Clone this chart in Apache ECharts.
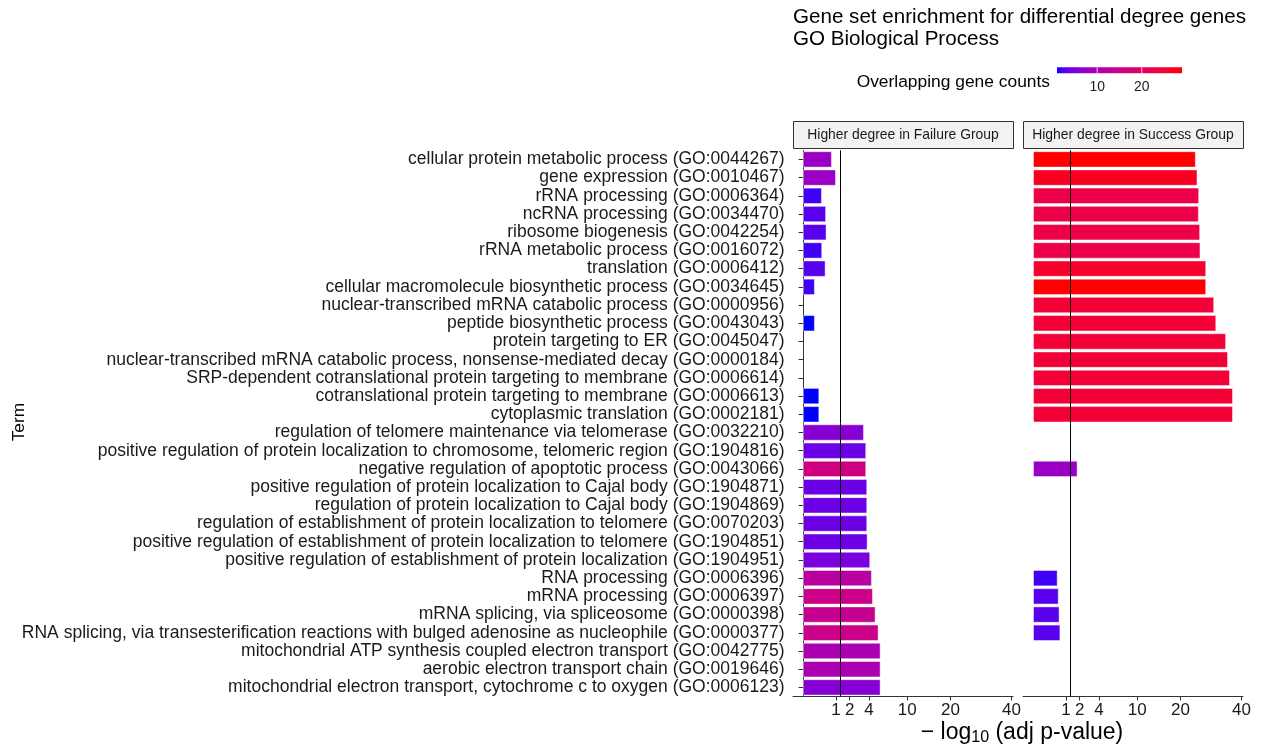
<!DOCTYPE html>
<html>
<head>
<meta charset="utf-8">
<script src="https://cdn.jsdelivr.net/npm/echarts@6/dist/echarts.min.js"></script>
<style>
  html, body { margin: 0; padding: 0; background: #ffffff; }
  #chart { width: 1261px; height: 749px; }
</style>
</head>
<body>
<div id="chart"></div>
<script>
// GO Biological Process terms, top to bottom
const terms = [
  'cellular protein metabolic process (GO:0044267)',
  'gene expression (GO:0010467)',
  'rRNA processing (GO:0006364)',
  'ncRNA processing (GO:0034470)',
  'ribosome biogenesis (GO:0042254)',
  'rRNA metabolic process (GO:0016072)',
  'translation (GO:0006412)',
  'cellular macromolecule biosynthetic process (GO:0034645)',
  'nuclear-transcribed mRNA catabolic process (GO:0000956)',
  'peptide biosynthetic process (GO:0043043)',
  'protein targeting to ER (GO:0045047)',
  'nuclear-transcribed mRNA catabolic process, nonsense-mediated decay (GO:0000184)',
  'SRP-dependent cotranslational protein targeting to membrane (GO:0006614)',
  'cotranslational protein targeting to membrane (GO:0006613)',
  'cytoplasmic translation (GO:0002181)',
  'regulation of telomere maintenance via telomerase (GO:0032210)',
  'positive regulation of protein localization to chromosome, telomeric region (GO:1904816)',
  'negative regulation of apoptotic process (GO:0043066)',
  'positive regulation of protein localization to Cajal body (GO:1904871)',
  'regulation of protein localization to Cajal body (GO:1904869)',
  'regulation of establishment of protein localization to telomere (GO:0070203)',
  'positive regulation of establishment of protein localization to telomere (GO:1904851)',
  'positive regulation of establishment of protein localization (GO:1904951)',
  'RNA processing (GO:0006396)',
  'mRNA processing (GO:0006397)',
  'mRNA splicing, via spliceosome (GO:0000398)',
  'RNA splicing, via transesterification reactions with bulged adenosine as nucleophile (GO:0000377)',
  'mitochondrial ATP synthesis coupled electron transport (GO:0042775)',
  'aerobic electron transport chain (GO:0019646)',
  'mitochondrial electron transport, cytochrome c to oxygen (GO:0006123)'
];

// -log10(adjusted p-value), Failure group (null = term not enriched)
const failureLogP = [0.77, 1.00, 0.33, 0.49, 0.51, 0.34, 0.47, 0.13, null, 0.13,
  null, null, null, 0.245, 0.245, 3.42, 3.68, 3.68, 3.80, 3.80,
  3.80, 3.84, 4.16, 4.37, 4.50, 4.85, 5.26, 5.54, 5.54, 5.54];
// overlapping gene counts, Failure group
const failureCounts = [8, 8, 2, 3, 3, 2, 3, 2, null, 1,
  null, null, null, 1, 1, 6, 4, 16, 4, 4,
  4, 4, 5, 12, 15, 14, 15, 10, 10, 6];

// -log10(adjusted p-value), Success group
const successLogP = [24.4, 24.9, 25.4, 25.3, 25.7, 25.8, 27.6, 27.6, 30.2, 30.9,
  34.3, 35.0, 35.7, 36.8, 36.8, null, null, 1.83, null, null,
  null, null, null, 0.56, 0.61, 0.65, 0.69, null, null, null];
// overlapping gene counts, Success group
const successCounts = [29, 27, 23, 23, 23, 23, 26, 29, 25, 25,
  25, 25, 25, 25, 25, null, null, 8, null, null,
  null, null, null, 2, 3, 3, 3, null, null, null];

const facetNames = ['Higher degree in Failure Group', 'Higher degree in Success Group'];
const xTickValues = [1, 2, 4, 10, 20, 40];
const legendTickValues = [10, 20];
const cutoffLogP = -Math.log10(0.05);

// ---- colour ramp blue -> red, interpolated in CIE Lab ----
function toLinear(c) { c /= 255; return c <= 0.04045 ? c / 12.92 : Math.pow((c + 0.055) / 1.055, 2.4); }
function toGamma(c) { c = Math.min(1, Math.max(0, c)); return c <= 0.0031308 ? 12.92 * c : 1.055 * Math.pow(c, 1 / 2.4) - 0.055; }
const WP = [0.95047, 1.0, 1.08883];
function rgbToLab(rgb) {
  const R = toLinear(rgb[0]), G = toLinear(rgb[1]), B = toLinear(rgb[2]);
  const X = (0.4124564 * R + 0.3575761 * G + 0.1804375 * B) / WP[0];
  const Y = (0.2126729 * R + 0.7151522 * G + 0.0721750 * B) / WP[1];
  const Z = (0.0193339 * R + 0.1191920 * G + 0.9503041 * B) / WP[2];
  const f = t => t > 216 / 24389 ? Math.cbrt(t) : (24389 / 27 * t + 16) / 116;
  const fx = f(X), fy = f(Y), fz = f(Z);
  return [116 * fy - 16, 500 * (fx - fy), 200 * (fy - fz)];
}
function labToHex(lab) {
  const fy = (lab[0] + 16) / 116, fx = fy + lab[1] / 500, fz = fy - lab[2] / 200;
  const finv = t => t * t * t > 216 / 24389 ? t * t * t : (116 * t - 16) / (24389 / 27);
  const X = finv(fx) * WP[0], Y = finv(fy) * WP[1], Z = finv(fz) * WP[2];
  const r = 3.2404542 * X - 1.5371385 * Y - 0.4985314 * Z;
  const g = -0.9692660 * X + 1.8760108 * Y + 0.0415560 * Z;
  const b = 0.0556434 * X - 0.2040259 * Y + 1.0572252 * Z;
  const h = v => Math.round(toGamma(v) * 255).toString(16).padStart(2, '0');
  return '#' + h(r) + h(g) + h(b);
}
const LAB_LOW = rgbToLab([0, 0, 255]);
const LAB_HIGH = rgbToLab([255, 0, 0]);
function rampColor(t) {
  return labToHex(LAB_LOW.map((v, i) => v + (LAB_HIGH[i] - v) * t));
}
const allCounts = failureCounts.concat(successCounts).filter(v => v != null);
const countMin = Math.min(...allCounts);
const countMax = Math.max(...allCounts);
function countColor(c) { return rampColor((c - countMin) / (countMax - countMin)); }

// ---- square-root x scale shared by both facets ----
const allLogP = failureLogP.concat(successLogP).filter(v => v != null);
const sqrtMax = Math.sqrt(Math.max(...allLogP));
const xMin = -0.05 * sqrtMax;
const xMax = 1.05 * sqrtMax;
const xTicksSqrt = xTickValues.map(Math.sqrt);

// ---- layout ----
const FONT = 'Liberation Sans, Arial, sans-serif';
const panelLeft = [793, 1023];
const panelWidth = 220;
const panelTop = 150.3;
const panelHeight = 546.2;
const stripTop = 121;
const stripHeight = 27;

function barData(vals, counts) {
  return vals.map((v, i) => v == null ? '-' : {
    value: Math.sqrt(v),
    itemStyle: { color: countColor(counts[i]) }
  });
}

function panelXAxis(gi) {
  return {
    type: 'value', gridIndex: gi, min: xMin, max: xMax,
    splitLine: { show: false },
    axisLine: { show: true, lineStyle: { color: '#333333', width: 1 } },
    axisTick: { show: true, length: 4, customValues: xTicksSqrt, lineStyle: { color: '#333333' } },
    axisLabel: {
      show: true, customValues: xTicksSqrt, margin: 5,
      fontSize: 17, fontFamily: FONT, color: '#1a1a1a',
      formatter: v => String(Math.round(v * v))
    }
  };
}

function cutoffLine() {
  return {
    silent: true, symbol: 'none', label: { show: false },
    lineStyle: { color: '#000000', width: 1, type: 'solid' },
    emphasis: { disabled: true },
    data: [{ xAxis: Math.sqrt(cutoffLogP) }]
  };
}

const barCommon = {
  type: 'bar', barWidth: '90%', silent: true, animation: false,
  itemStyle: { borderColor: 'rgba(255,255,255,0.45)', borderWidth: 1 }
};

// gradient for the colour bar
const gradStops = [];
for (let i = 0; i <= 24; i++) gradStops.push({ offset: i / 24, color: rampColor(i / 24) });

const graphics = [];
facetNames.forEach((name, k) => {
  graphics.push({
    type: 'rect', z: 10,
    shape: { x: panelLeft[k] + 0.5, y: stripTop + 0.5, width: panelWidth, height: stripHeight },
    style: { fill: '#f2f2f2', stroke: '#333333', lineWidth: 1 }
  });
  graphics.push({
    type: 'text', z: 11,
    x: panelLeft[k] + panelWidth / 2, y: stripTop + stripHeight / 2 + 0.5,
    style: { text: name, fontSize: 13.9, fontFamily: FONT, fill: '#1a1a1a', align: 'center', verticalAlign: 'middle' }
  });
});
graphics.push({
  type: 'text', x: 19, y: 422, rotation: Math.PI / 2,
  style: { text: 'Term', fontSize: 17.4, fontFamily: FONT, fill: '#000000', align: 'center', verticalAlign: 'middle' }
});
graphics.push({
  type: 'text', x: 1050, y: 82,
  style: { text: 'Overlapping gene counts', fontSize: 17.4, fontFamily: FONT, fill: '#000000', align: 'right', verticalAlign: 'middle' }
});
graphics.push({
  type: 'text', x: 1022, y: 733,
  style: {
    text: '{a|\u2212 log}{b|10}{a| (adj p-value)}',
    align: 'center', verticalAlign: 'middle', fill: '#000000',
    rich: {
      a: { fontSize: 23, fontFamily: FONT, fill: '#000000', lineHeight: 26 },
      b: { fontSize: 16, fontFamily: FONT, fill: '#000000', lineHeight: 13, verticalAlign: 'bottom' }
    }
  }
});

const option = {
  animation: false,
  backgroundColor: '#ffffff',
  title: {
    text: 'Gene set enrichment for differential degree genes\nGO Biological Process',
    left: 793, top: 6, padding: 0,
    textStyle: { fontSize: 20.6, fontWeight: 'normal', fontFamily: FONT, color: '#000000', lineHeight: 22 }
  },
  grid: [
    { left: panelLeft[0], top: panelTop, width: panelWidth, height: panelHeight, outerBoundsMode: 'none', containLabel: false },
    { left: panelLeft[1], top: panelTop, width: panelWidth, height: panelHeight, outerBoundsMode: 'none', containLabel: false },
    { left: 1057, top: 67.3, width: 125, height: 6, outerBoundsMode: 'none', containLabel: false }
  ],
  xAxis: [
    panelXAxis(0),
    panelXAxis(1),
    {
      type: 'value', gridIndex: 2, min: countMin, max: countMax,
      splitLine: { show: false }, axisLine: { show: false }, axisTick: { show: false },
      axisLabel: { show: true, customValues: legendTickValues, margin: 7, fontSize: 13.9, fontFamily: FONT, color: '#1a1a1a' }
    }
  ],
  yAxis: [
    {
      type: 'category', gridIndex: 0, data: terms, inverse: true,
      axisLine: { show: true, lineStyle: { color: '#333333', width: 1 } },
      axisTick: { show: true, length: 4.5, alignWithLabel: true, lineStyle: { color: '#333333' } },
      axisLabel: { show: true, margin: 8.5, fontSize: 17.5, fontFamily: FONT, color: '#1a1a1a', interval: 0 },
      splitLine: { show: false }
    },
    {
      type: 'category', gridIndex: 1, data: terms, inverse: true,
      axisLine: { show: false }, axisTick: { show: false }, axisLabel: { show: false }, splitLine: { show: false }
    },
    { type: 'value', gridIndex: 2, min: 0, max: 1, show: false }
  ],
  series: [
    Object.assign({}, barCommon, {
      name: facetNames[0], xAxisIndex: 0, yAxisIndex: 0,
      data: barData(failureLogP, failureCounts), markLine: cutoffLine()
    }),
    Object.assign({}, barCommon, {
      name: facetNames[1], xAxisIndex: 1, yAxisIndex: 1,
      data: barData(successLogP, successCounts), markLine: cutoffLine()
    }),
    {
      type: 'custom', xAxisIndex: 2, yAxisIndex: 2, silent: true,
      data: [[countMin, countMax]],
      renderItem: function (params, api) {
        const p0 = api.coord([api.value(0), 1]);
        const p1 = api.coord([api.value(1), 0]);
        const children = [{
          type: 'rect',
          shape: { x: p0[0], y: p0[1], width: p1[0] - p0[0], height: p1[1] - p0[1] },
          style: { fill: new echarts.graphic.LinearGradient(0, 0, 1, 0, gradStops) }
        }];
        legendTickValues.forEach(t => {
          const a = api.coord([t, 1]), b = api.coord([t, 0]);
          children.push({
            type: 'line',
            shape: { x1: a[0], y1: a[1], x2: b[0], y2: b[1] },
            style: { stroke: 'rgba(255,255,255,0.8)', lineWidth: 1 }
          });
        });
        return { type: 'group', children: children };
      }
    }
  ],
  graphic: graphics
};

const chart = echarts.init(document.getElementById('chart'), null, { renderer: 'canvas' });
chart.setOption(option);
</script>
</body>
</html>
